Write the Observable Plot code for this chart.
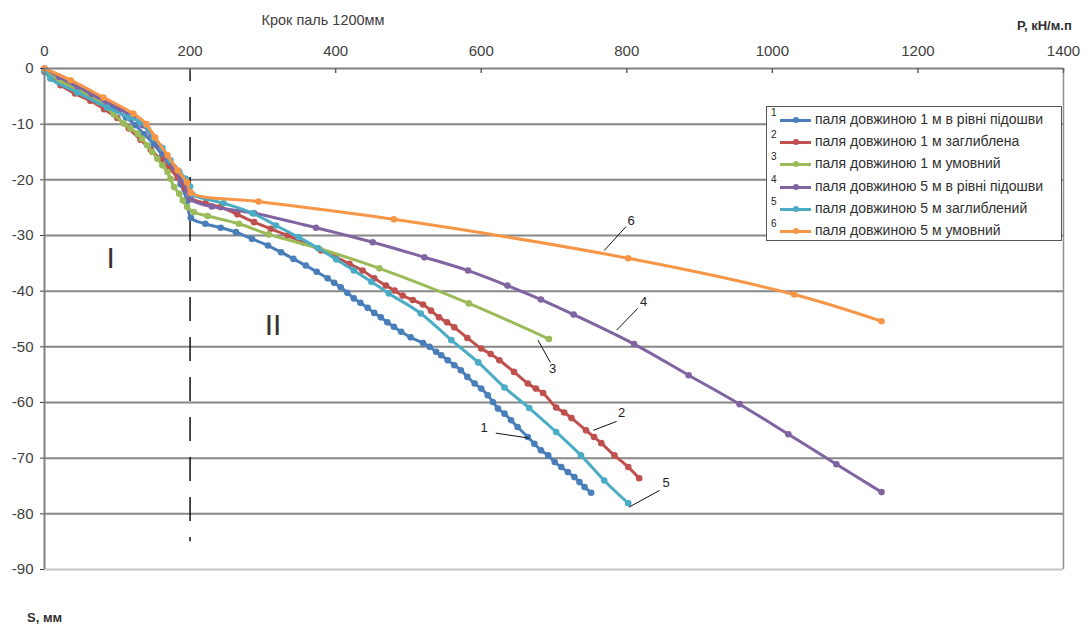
<!DOCTYPE html>
<html>
<head>
<meta charset="utf-8">
<script src="https://cdn.jsdelivr.net/npm/d3@7"></script>
<script src="https://cdn.jsdelivr.net/npm/@observablehq/plot@0.6"></script>
<style>
  html, body { margin: 0; padding: 0; background: #fff; }
  #wrap { position: relative; width: 1091px; height: 629px; font-family: "Liberation Sans", Arial, sans-serif; color: #404040; }
  .ov { position: absolute; white-space: nowrap; }
  #legend { position: absolute; left: 766px; top: 106px; width: 296px; height: 135px; border: 1px solid #555; background: #fff; box-sizing: border-box; }
  .row { position: absolute; left: 0; width: 100%; height: 20px; font-size: 14px; color: #303030; white-space: nowrap; }
  .num { position: absolute; left: 4px; top: -3px; font-size: 10px; color: #222; }
  .sw { position: absolute; left: 13px; top: 9px; width: 31px; height: 3px; }
  .mk { position: absolute; left: 26px; top: 7px; width: 6px; height: 6px; border-radius: 50%; }
  .lt { position: absolute; left: 48px; top: 1px; }
</style>
</head>
<body>
<div id="wrap"></div>
<script>
// ---- data ----
const xTicks = [0, 200, 400, 600, 800, 1000, 1200, 1400];
const yTicks = [0, -10, -20, -30, -40, -50, -60, -70, -80, -90];
const gridS = [-10, -20, -30, -40, -50, -60, -70, -80];

const seriesNames = [
  "паля довжиною 1 м в  рівні підошви",
  "паля довжиною 1 м заглиблена",
  "паля довжиною 1 м умовний",
  "паля довжиною 5 м в  рівні підошви",
  "паля довжиною 5 м заглиблений",
  "паля довжиною 5 м умовний"
];
const seriesColors = ["#4a7ebb", "#c0504d", "#9bbb59", "#8064a2", "#4bacc6", "#f79646"];

// 1: blue
const p1 = [0,12,25,38,50,63,75,88,100,112,125,137,150,162,175,187,196,201,221,242,263,285,307,325,342,359,374,389,398,407,416,425,434,444,453,462,471,480,490,503,520,529,538,545,554,563,572,581,591,600,609,616,623,632,641,650,664,673,682,692,701,710,719,728,735,742,751];
const s1 = [-0.6,-1.5,-2.3,-3.1,-3.9,-4.8,-5.6,-6.5,-7.6,-8.8,-10.2,-11.8,-13.6,-15.6,-18,-20.8,-23.8,-26.8,-27.9,-28.6,-29.4,-30.6,-31.8,-33,-34.2,-35.4,-36.5,-37.7,-38.5,-39.3,-40.3,-41.3,-42.1,-43,-43.9,-44.7,-45.6,-46.4,-47.3,-48.3,-49.3,-50,-50.9,-51.5,-52.4,-53.3,-54.2,-55.4,-56.6,-57.5,-58.7,-59.9,-61.1,-62,-63.2,-64.4,-66.2,-67.4,-68.6,-69.5,-70.7,-71.6,-72.5,-73.4,-74.3,-75.2,-76.2];
// 2: red
const p2 = [0,10,22,42,63,82,100,116,132,146,160,172,183,193,201,221,242,265,288,311,334,357,380,400,419,437,453,469,481,492,506,520,531,542,553,563,581,600,613,625,645,664,675,685,703,714,724,744,755,765,783,802,817];
const s2 = [-0.5,-1.8,-3,-4.5,-5.8,-7.3,-8.9,-10.8,-12.8,-14.6,-16.4,-18,-19.6,-21.5,-23.3,-24.2,-24.9,-26.2,-27.6,-28.8,-30,-31.3,-32.7,-33.9,-35.1,-36.3,-37.7,-39,-39.9,-40.8,-41.6,-42.4,-43.5,-44.7,-45.6,-46.5,-48.4,-50.3,-51.3,-52.4,-54.5,-56.6,-57.5,-58.3,-60.9,-61.8,-62.8,-65,-66.2,-67.3,-69.5,-71.6,-73.6];
// 3: green
const p3 = [0,25,50,75,95,109,118,128,134,141,148,155,162,169,173,178,185,190,196,205,224,267,308,376,460,583,693];
const s3 = [-0.3,-2.5,-4.2,-6,-8.2,-9.9,-10.8,-11.7,-12.6,-13.8,-15,-16.2,-17.4,-18.6,-19.8,-21.3,-22.5,-23.7,-24.9,-25.8,-26.5,-27.9,-29.8,-32.3,-35.9,-42.2,-48.6];
// 4: purple
const p4 = [0,20,45,65,86,104,122,135,147,158,168,178,187,196,201,230,288,373,451,522,582,636,682,727,810,885,955,1022,1088,1150];
const s4 = [0,-1.5,-3.2,-4.6,-6.1,-7.3,-8.8,-10.2,-12,-14,-15.8,-17.8,-19.8,-21.8,-23.5,-24.8,-26,-28.6,-31.2,-33.9,-36.3,-39,-41.5,-44.2,-49.5,-55.1,-60.3,-65.7,-71.1,-76.1];
// 5: teal
const p5 = [0,8,45,86,116,132,150,162,173,185,194,200,203,246,286,318,349,376,401,425,449,473,517,559,596,632,666,703,737,769,802];
const s5 = [-0.3,-1.8,-4.3,-7,-8.8,-9.6,-12.4,-14.3,-16.5,-18.5,-19.8,-21.2,-22.6,-24.2,-26,-28.2,-30.3,-32.3,-34.3,-36.3,-38.3,-40.4,-44,-48.8,-52.8,-57.3,-61,-65.3,-69.5,-74,-78.1];
// 6: orange
const p6 = [0,36,81,122,140,152,169,183,196,201,294,480,802,1030,1150];
const s6 = [0,-2.1,-5.2,-8.1,-10,-12.4,-15.6,-18.3,-20.5,-22.3,-23.9,-27.1,-34.1,-40.6,-45.4];

// callout labels "1".."6": text position and leader line
const calloutText = ["1", "2", "3", "4", "5", "6"];
const calloutTP = [604, 793, 698, 823, 854, 806];
const calloutTS = [-64.6, -61.9, -54.0, -42.0, -74.5, -27.3];
const calloutP1 = [620, 754, 678, 786, 803, 769];
const calloutS1 = [-65.5, -65.0, -48.8, -47.0, -78.8, -32.7];
const calloutP2 = [666, 786, 695, 815, 845, 799];
const calloutS2 = [-66.4, -63.4, -52.8, -43.1, -75.8, -28.4];

// zone labels
const zoneText = ["I", "II"];
const zoneP = [91, 314];
const zoneS = [-34.1, -46.1];

// ---- build ----
const allP = [p1, p2, p3, p4, p5, p6];
const allS = [s1, s2, s3, s4, s5, s6];
const series = allP.map((ps, k) => ps.map((p, i) => ({P: p, S: allS[k][i], k})));
const callouts = calloutText.map((t, i) => ({t, tp: calloutTP[i], ts: calloutTS[i], p1: calloutP1[i], s1: calloutS1[i], p2: calloutP2[i], s2: calloutS2[i]}));
const zones = zoneText.map((t, i) => ({t, P: zoneP[i], S: zoneS[i]}));

const marks = [
  Plot.ruleY(gridS, {stroke: "#868686", strokeWidth: 2}),
  Plot.ruleY([-90], {stroke: "#c4c4c4", strokeWidth: 2}),
  Plot.ruleX([1400], {y1: 0, y2: -90, stroke: "#909090", strokeWidth: 1.5}),
  Plot.ruleX([200], {y1: 0, y2: -85, stroke: "#111", strokeWidth: 1.5, strokeDasharray: "24,16", strokeDashoffset: 11}),
];
series.forEach((d, k) => {
  marks.push(Plot.line(d, {x: "P", y: "S", stroke: seriesColors[k], strokeWidth: 3, curve: "catmull-rom"}));
  marks.push(Plot.dot(d, {x: "P", y: "S", r: 3.3, fill: seriesColors[k]}));
});
marks.push(
  Plot.ruleY([0], {stroke: "#808080", strokeWidth: 2}),
  Plot.ruleX([0], {y1: 0, y2: -90, stroke: "#808080", strokeWidth: 2}),
  Plot.ruleX(xTicks.slice(1), {y1: 0, y2: -0.9, stroke: "#606060", strokeWidth: 1.5}),
  Plot.axisX({anchor: "top", ticks: xTicks, tickSize: 0, tickPadding: 13, label: null, fontSize: 15, color: "#404040", tickFormat: d => String(d)}),
  Plot.axisY({anchor: "left", ticks: yTicks, tickSize: 4, tickPadding: 7, label: null, fontSize: 15, color: "#404040", tickFormat: d => String(d)}),
  Plot.link(callouts, {x1: "p1", y1: "s1", x2: "p2", y2: "s2", stroke: "#111", strokeWidth: 1}),
  Plot.text(callouts, {x: "tp", y: "ts", text: "t", fontSize: 13, fill: "#222"}),
  Plot.text(zones, {x: "P", y: "S", text: "t", fontSize: 30, fontWeight: 300, fill: "#333"})
);

const chart = Plot.plot({
  width: 1091,
  height: 629,
  marginLeft: 44,
  marginRight: 28,
  marginTop: 68,
  marginBottom: 60,
  x: {domain: [0, 1400]},
  y: {domain: [-90, 0]},
  style: {fontFamily: "Liberation Sans, Arial, sans-serif", fontSize: "15px", background: "#fff", color: "#404040"},
  marks
});

const wrap = document.getElementById("wrap");
wrap.appendChild(chart);
chart.style.position = "absolute";
chart.style.left = "0px";
chart.style.top = "0px";

function ov(text, css) {
  const d = document.createElement("div");
  d.className = "ov";
  d.textContent = text;
  Object.assign(d.style, css);
  wrap.appendChild(d);
  return d;
}
ov("Крок паль 1200мм", {left: "323px", top: "20px", transform: "translate(-50%,-50%)", fontSize: "14.5px", color: "#404040"});
ov("P, кН/м.п", {left: "1017px", top: "18px", fontSize: "13px", fontWeight: "bold", color: "#303030"});
ov("S, мм", {left: "27px", top: "610px", fontSize: "13px", fontWeight: "bold", color: "#303030"});

const legend = document.createElement("div");
legend.id = "legend";
seriesNames.forEach((name, k) => {
  const r = document.createElement("div");
  r.className = "row";
  r.style.top = (3 + k * 22.2) + "px";
  r.innerHTML = `<span class="num">${k + 1}</span><span class="sw" style="background:${seriesColors[k]}"></span><span class="mk" style="background:${seriesColors[k]}"></span><span class="lt"></span>`;
  r.querySelector(".lt").textContent = name;
  legend.appendChild(r);
});
wrap.appendChild(legend);
</script>
</body>
</html>
